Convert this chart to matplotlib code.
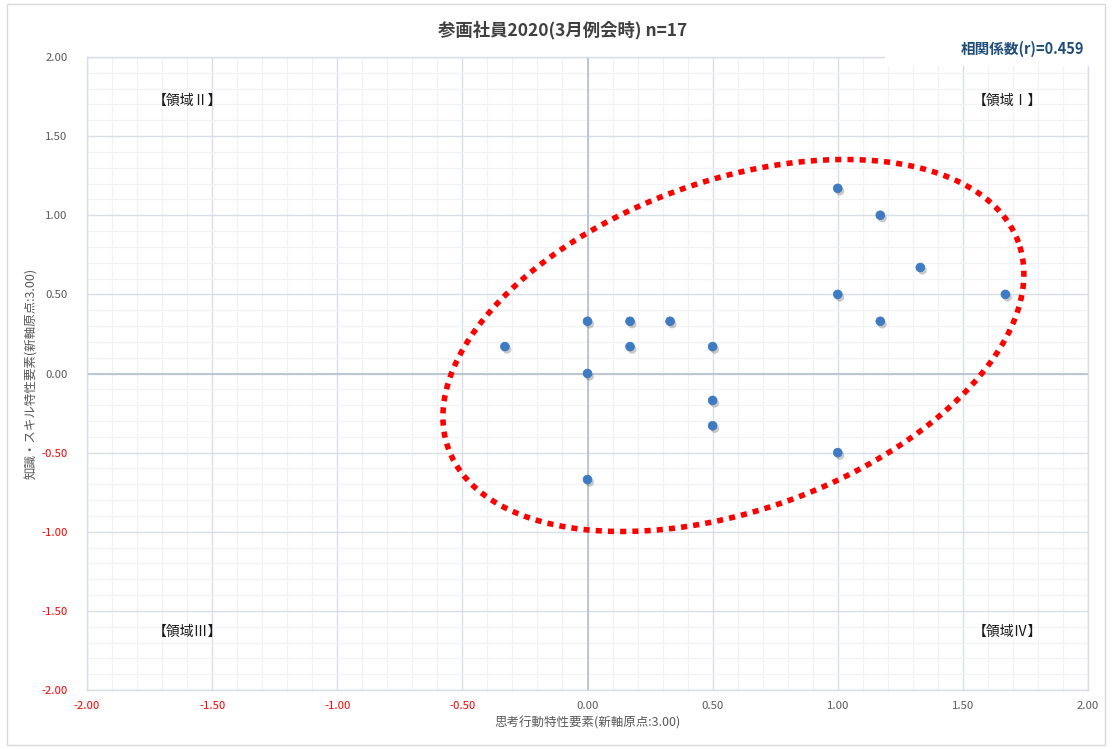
import numpy as np
import matplotlib
matplotlib.use("Agg")
import matplotlib.pyplot as plt
import matplotlib.patheffects as pe
from matplotlib.patches import Rectangle
from matplotlib.ticker import MultipleLocator, FuncFormatter

plt.rcParams['font.family'] = ['Noto Sans CJK JP', 'DejaVu Sans']

# Scores relative to the new axis origin (3.00)
thinking = [-0.33, 0.00, 0.17, 0.33, 0.17, 0.50, 0.00, 0.50, 0.50, 0.00,
            1.00, 1.17, 1.33, 1.00, 1.67, 1.17, 1.00]
knowledge = [0.17, 0.33, 0.33, 0.33, 0.17, 0.17, 0.00, -0.17, -0.33, -0.67,
             1.17, 1.00, 0.67, 0.50, 0.50, 0.33, -0.50]

title = "参画社員2020(3月例会時) n=17"
corr_label = "相関係数(r)=0.459"
x_label = "思考行動特性要素(新軸原点:3.00)"
y_label = "知識・スキル特性要素(新軸原点:3.00)"
quadrants = ["【領域Ⅰ】", "【領域Ⅱ】", "【領域Ⅲ】", "【領域Ⅳ】"]

# Highlight ellipse: centre and conjugate semi-axis vectors (data units)
ell_center = (0.583, 0.177)
ell_major = (1.139, 0.652)
ell_minor = (-0.224, 0.978)

W, H = 1112, 749
fig = plt.figure(figsize=(W / 100, H / 100), dpi=100)
fig.patch.set_facecolor("white")
fig.add_artist(Rectangle((7 / W, 4 / H), 1 - 14 / W, 1 - 8 / H,
                         transform=fig.transFigure, fill=False,
                         edgecolor="#d9d9d9", linewidth=1.0))

ax = fig.add_axes([87 / W, 1 - 690 / H, (1088 - 87) / W, (690 - 57) / H])
ax.set_xlim(-2, 2)
ax.set_ylim(-2, 2)

ax.xaxis.set_major_locator(MultipleLocator(0.5))
ax.yaxis.set_major_locator(MultipleLocator(0.5))
ax.xaxis.set_minor_locator(MultipleLocator(0.1))
ax.yaxis.set_minor_locator(MultipleLocator(0.1))
ax.grid(which="major", color="#d9dde6", linewidth=1.0, zorder=0)
ax.grid(which="minor", color="#f1f2f6", linewidth=0.9, zorder=0)
ax.set_axisbelow(True)

for s in ax.spines.values():
    s.set_color("#d9dde6")
    s.set_linewidth(1.0)

ax.axhline(0, color="#b9c3d3", linewidth=1.3, zorder=1)
ax.axvline(0, color="#b9c3d3", linewidth=1.3, zorder=1)

fmt = FuncFormatter(lambda v, p: f"{v:.2f}")
ax.xaxis.set_major_formatter(fmt)
ax.yaxis.set_major_formatter(fmt)
ax.tick_params(which="both", length=0)
ax.tick_params(axis="x", labelsize=8.2, pad=8, colors="#595959")
ax.tick_params(axis="y", labelsize=8.2, pad=14, colors="#595959")
fig.canvas.draw()
for lbl in ax.get_xticklabels() + ax.get_yticklabels():
    txt = lbl.get_text().replace("−", "-")
    try:
        val = float(txt)
    except ValueError:
        continue
    lbl.set_color("#ff0000" if val < 0 else "#595959")

ax.set_xlabel(x_label, fontsize=9, color="#595959", labelpad=4)
ax.set_ylabel(y_label, fontsize=9, color="#595959", labelpad=2)

# Data points with soft drop shadow
ax.scatter(thinking, knowledge, s=40, color="#3d7cc4", edgecolor="#3a74b8",
           linewidth=0.5, zorder=4,
           path_effects=[pe.SimplePatchShadow(offset=(1.5, -2), alpha=0.35,
                                              shadow_rgbFace="#666666"),
                         pe.Normal()])

# Dotted red highlight ellipse
t = np.linspace(0, 2 * np.pi, 400)
ex = ell_center[0] + ell_major[0] * np.cos(t) + ell_minor[0] * np.sin(t)
ey = ell_center[1] + ell_major[1] * np.cos(t) + ell_minor[1] * np.sin(t)
ax.plot(ex, ey, color="#ff0000", linewidth=4, linestyle=(0, (1.1, 1.1)),
        dash_capstyle="butt", zorder=5)

# Quadrant labels
qpos = [(1.68, 1.72), (-1.6, 1.72), (-1.6, -1.63), (1.68, -1.63)]
for (qx, qy), q in zip(qpos, quadrants):
    ax.text(qx, qy, q, fontsize=10, color="#1a1a1a", ha="center", va="center",
            zorder=6)

fig.text(563 / W, 1 - 30 / H, title, fontsize=12.5, fontweight="bold",
         color="#404040", ha="center", va="center")

# Correlation label on a white panel over the plot corner
fig.add_artist(Rectangle((885 / W, 1 - 66 / H), (1100 - 885) / W, 30 / H,
                         transform=fig.transFigure, facecolor="white",
                         edgecolor="none", zorder=3))
fig.text(1022 / W, 1 - 49 / H, corr_label, fontsize=10.5, fontweight="bold",
         color="#1f4e79", ha="center", va="center", zorder=4)

fig.savefig("out.png", dpi=100, facecolor="white")
